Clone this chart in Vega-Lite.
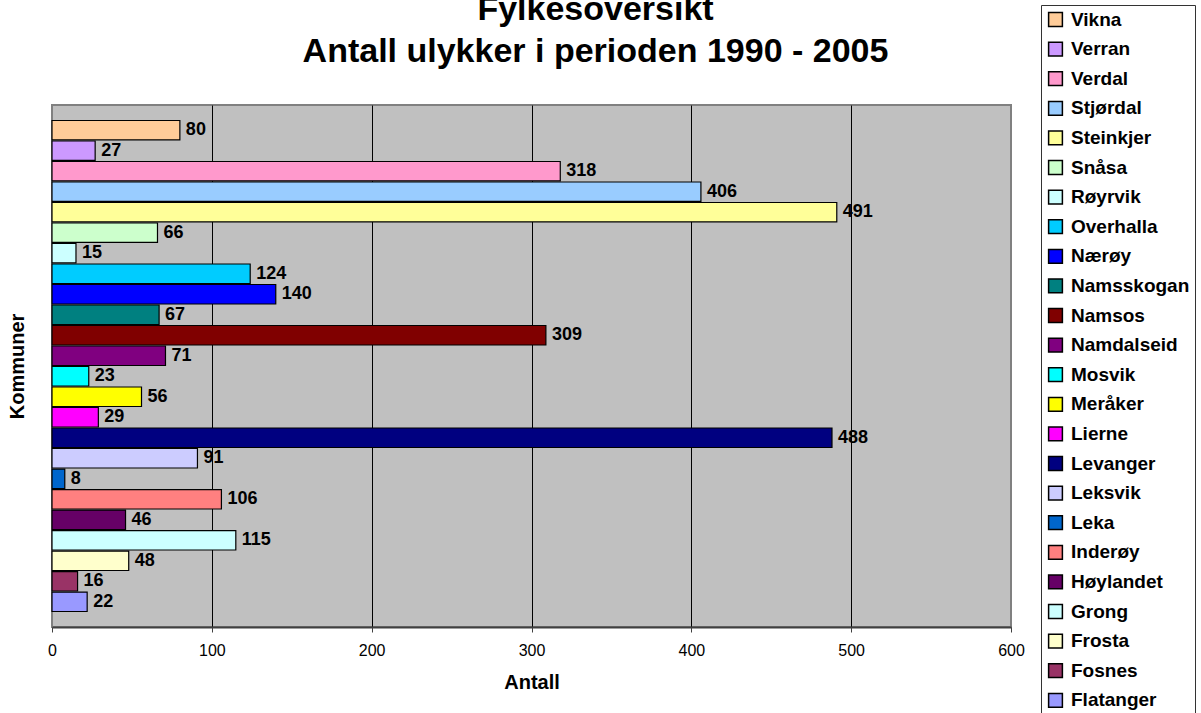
{
  "$schema": "https://vega.github.io/schema/vega-lite/v6.json",
  "width": 959,
  "height": 522,
  "autosize": {"type": "none"},
  "padding": {"left": 52, "top": 105, "right": 190, "bottom": 86},
  "background": "white",
  "title": {
    "text": ["Fylkesoversikt", "Antall ulykker i perioden 1990 - 2005"],
    "font": "Liberation Sans",
    "fontSize": 34,
    "fontWeight": "bold",
    "color": "black",
    "anchor": "middle",
    "frame": "group",
    "dx": 64,
    "dy": 98,
    "lineHeight": 42,
    "baseline": "bottom",
    "offset": 0
  },
  "config": {
    "view": {"stroke": "#808080", "strokeWidth": 2, "fill": "#C0C0C0"},
    "font": "Liberation Sans"
  },
  "data": {
    "values": [
      {"kommune": "Vikna", "antall": 80},
      {"kommune": "Verran", "antall": 27},
      {"kommune": "Verdal", "antall": 318},
      {"kommune": "Stjørdal", "antall": 406},
      {"kommune": "Steinkjer", "antall": 491},
      {"kommune": "Snåsa", "antall": 66},
      {"kommune": "Røyrvik", "antall": 15},
      {"kommune": "Overhalla", "antall": 124},
      {"kommune": "Nærøy", "antall": 140},
      {"kommune": "Namsskogan", "antall": 67},
      {"kommune": "Namsos", "antall": 309},
      {"kommune": "Namdalseid", "antall": 71},
      {"kommune": "Mosvik", "antall": 23},
      {"kommune": "Meråker", "antall": 56},
      {"kommune": "Lierne", "antall": 29},
      {"kommune": "Levanger", "antall": 488},
      {"kommune": "Leksvik", "antall": 91},
      {"kommune": "Leka", "antall": 8},
      {"kommune": "Inderøy", "antall": 106},
      {"kommune": "Høylandet", "antall": 46},
      {"kommune": "Grong", "antall": 115},
      {"kommune": "Frosta", "antall": 48},
      {"kommune": "Fosnes", "antall": 16},
      {"kommune": "Flatanger", "antall": 22}
    ]
  },
  "encoding": {
    "y": {
      "field": "kommune",
      "type": "nominal",
      "sort": ["Vikna", "Verran", "Verdal", "Stjørdal", "Steinkjer", "Snåsa", "Røyrvik", "Overhalla", "Nærøy", "Namsskogan", "Namsos", "Namdalseid", "Mosvik", "Meråker", "Lierne", "Levanger", "Leksvik", "Leka", "Inderøy", "Høylandet", "Grong", "Frosta", "Fosnes", "Flatanger"],
      "scale": {"paddingInner": 0.05, "paddingOuter": 0.755},
      "axis": {
        "title": "Kommuner",
        "labels": false,
        "ticks": false,
        "domain": false,
        "grid": false,
        "titleFont": "Liberation Sans",
        "titleFontSize": 20,
        "titleFontWeight": "bold",
        "titleColor": "black",
        "titlePadding": 25
      }
    },
    "x": {
      "field": "antall",
      "type": "quantitative",
      "scale": {"domain": [0, 600], "nice": false},
      "axis": {
        "title": "Antall",
        "values": [0, 100, 200, 300, 400, 500, 600],
        "grid": true,
        "gridColor": {"condition": {"test": "datum.value === 0 || datum.value === 600", "value": "#808080"}, "value": "black"},
        "gridWidth": 1,
        "gridOpacity": 1,
        "domainColor": "#404040",
        "domainWidth": 2,
        "tickColor": "#404040",
        "tickSize": 5,
        "tickWidth": 1,
        "labelFont": "Liberation Sans",
        "labelFontSize": 16,
        "labelColor": "black",
        "labelPadding": 10,
        "labelFlush": false,
        "titleFont": "Liberation Sans",
        "titleFontSize": 20,
        "titleFontWeight": "bold",
        "titleColor": "black",
        "titlePadding": 14
      }
    }
  },
  "layer": [
    {
      "mark": {"type": "bar", "stroke": "black", "strokeWidth": 1.2},
      "encoding": {
        "color": {
          "field": "kommune",
          "type": "nominal",
          "scale": {
            "domain": ["Vikna", "Verran", "Verdal", "Stjørdal", "Steinkjer", "Snåsa", "Røyrvik", "Overhalla", "Nærøy", "Namsskogan", "Namsos", "Namdalseid", "Mosvik", "Meråker", "Lierne", "Levanger", "Leksvik", "Leka", "Inderøy", "Høylandet", "Grong", "Frosta", "Fosnes", "Flatanger"],
            "range": ["#FFCC99", "#CC99FF", "#FF99CC", "#99CCFF", "#FFFF99", "#CCFFCC", "#CCFFFF", "#00CCFF", "#0000FF", "#008080", "#800000", "#800080", "#00FFFF", "#FFFF00", "#FF00FF", "#000080", "#CCCCFF", "#0066CC", "#FF8080", "#660066", "#CCFFFF", "#FFFFCC", "#993366", "#9999FF"]
          },
          "legend": {
            "title": null,
            "orient": "none",
            "legendX": 989,
            "legendY": -100,
            "strokeColor": "#333333",
            "fillColor": "white",
            "padding": 5,
            "symbolType": "square",
            "symbolSize": 190,
            "symbolStrokeColor": "black",
            "symbolStrokeWidth": 1.5,
            "symbolOpacity": 1,
            "labelFont": "Liberation Sans",
            "labelFontSize": 19,
            "labelFontWeight": "bold",
            "labelColor": "black",
            "labelOffset": 6,
            "rowPadding": 8.6
          }
        }
      }
    },
    {
      "mark": {"type": "text", "align": "left", "baseline": "middle", "dx": 6, "font": "Liberation Sans", "fontSize": 18, "fontWeight": "bold", "color": "black"},
      "encoding": {
        "text": {"field": "antall", "type": "quantitative"}
      }
    }
  ]
}
